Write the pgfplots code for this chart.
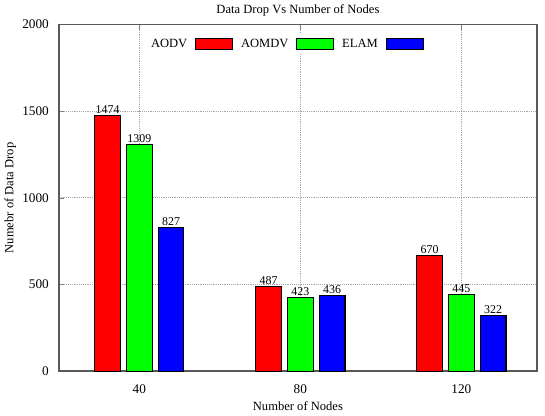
\documentclass[border=0pt]{standalone}
\usepackage{fontspec}
\setmainfont{Liberation Serif}
\usepackage{pgfplots}
\pgfplotsset{compat=1.18}

\begin{document}
\begin{tikzpicture}
\begin{axis}[
  name=main,
  width=361.5pt, height=262pt, scale only axis,
  ybar, bar width=19.5pt,
  xmin=-0.5, xmax=2.47, ymin=0, ymax=2000,
  xtick={0,1,2}, xticklabels={40,80,120},
  ytick={0,500,1000,1500,2000},
  /pgf/number format/assume math mode=true,
  /pgf/number format/1000 sep={},
  tick label style={font=\fontsize{10}{11}\selectfont},
  yticklabel style={xshift=-4pt},
  xticklabel style={yshift=-7pt},
  xtick pos=both, ytick pos=left,
  tick align=inside, major tick length=4pt,
  xmajorgrids, ymajorgrids,
  grid style={densely dotted, gray!70, line width=0.6pt},
  axis line style={gray!70!black, line width=1.1pt},
  title={Data Drop Vs Number of Nodes},
  title style={font=\fontsize{9.5}{10}\selectfont, yshift=-3pt},
  xlabel={Number of Nodes}, ylabel={Numebr of Data Drop},
  label style={font=\fontsize{9.5}{10}\selectfont},
  xlabel style={yshift=1pt},
  ylabel style={yshift=-2pt},
  nodes near coords,
  nodes near coords style={font=\fontsize{9}{10}\selectfont, color=black, inner sep=1pt},
  legend style={at={(0.475,0.975)}, anchor=north, draw=none, fill=white,
    font=\fontsize{9.5}{10}\selectfont, column sep=4pt},
  legend columns=3,
  legend plot pos=right,
  legend image code/.code={\draw[#1, line width=0.6pt] (0pt,-4pt) rectangle (28pt,4pt);},
]
\addplot[fill={rgb,255:red,255;green,0;blue,0}, draw=black, line width=0.8pt, bar shift=-24pt]
  coordinates {(0,1474) (1,487) (2,670)};
\addplot[fill={rgb,255:red,0;green,255;blue,0}, draw=black, line width=0.8pt, bar shift=0pt]
  coordinates {(0,1309) (1,423) (2,445)};
\addplot[fill={rgb,255:red,0;green,0;blue,255}, draw=black, line width=0.8pt, bar shift=24pt]
  coordinates {(0,827) (1,436) (2,322)};
\legend{AODV,AOMDV,ELAM}
\end{axis}
% a little white space to the right of the frame
\path (main.east) ++(6pt,0) coordinate (pad);
\path (pad) -- (main.east);
\end{tikzpicture}
\end{document}
